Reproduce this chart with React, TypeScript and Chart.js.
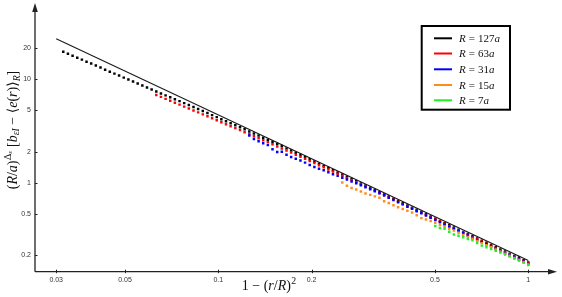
import React, { useEffect, useRef } from "react";
import { Chart, registerables } from "chart.js";
Chart.register(...registerables);

// Shared log-binned abscissa 1-(r/R)^2
const U = [0.03162,0.03273,0.03388,0.03508,0.03631,0.03758,0.03890,0.04027,0.04169,0.04315,
0.04467,0.04624,0.04786,0.04955,0.05129,0.05309,0.05495,0.05689,0.05888,0.06095,
0.06310,0.06531,0.06761,0.06998,0.07244,0.07499,0.07762,0.08035,0.08318,0.08610,
0.08913,0.09226,0.09550,0.09886,0.1023,0.1059,0.1096,0.1135,0.1175,0.1216,
0.1259,0.1303,0.1349,0.1396,0.1445,0.1496,0.1549,0.1603,0.1660,0.1718,
0.1778,0.1841,0.1905,0.1972,0.2042,0.2113,0.2188,0.2265,0.2344,0.2427,
0.2512,0.2600,0.2692,0.2786,0.2884,0.2985,0.3090,0.3199,0.3311,0.3428,
0.3548,0.3673,0.3802,0.3936,0.4074,0.4217,0.4365,0.4519,0.4677,0.4842,
0.5012,0.5188,0.5370,0.5559,0.5754,0.5957,0.6166,0.6383,0.6607,0.6839,
0.7079,0.7328,0.7586,0.7852,0.8128,0.8414,0.8710,0.9016,0.9333,0.9661,
1.0];

const R127 = [18.49,17.70,16.93,16.19,15.50,14.82,14.19,13.57,12.98,12.40,
11.86,11.35,10.86,10.38,9.936,9.506,9.099,8.707,8.326,7.967,
7.621,7.308,6.992,6.705,6.414,6.151,5.885,5.630,5.386,5.153,
4.931,4.717,4.503,4.308,4.113,3.935,3.756,3.596,3.433,3.284,
3.135,2.993,2.857,2.728,2.604,2.486,2.368,2.260,2.148,2.051,
1.949,1.856,1.772,1.684,1.605,1.528,1.452,1.386,1.321,1.255,
1.198,1.141,1.085,1.036,0.9843,0.9374,0.8950,0.8506,0.8101,0.7699,
0.7349,0.6985,0.6654,0.6337,0.6023,0.5736,0.5464,0.5204,0.4946,0.4712,
0.4477,0.4265,0.4062,0.3869,0.3685,0.3510,0.3344,0.3185,0.3034,0.2890,
0.2753,0.2622,0.2497,0.2379,0.2266,0.2158,0.2056,0.1958,0.1886,0.1776,
0.1692];

const R63 = [7.050,6.762,6.467,6.188,5.934,5.691,5.444,5.220,4.993,4.789,
4.581,4.383,4.194,4.021,3.847,3.681,3.522,3.371,3.225,3.079,
2.946,2.818,2.691,2.574,2.457,2.351,2.244,2.143,2.050,1.958,
1.868,1.783,1.702,1.621,1.548,1.478,1.408,1.343,1.281,1.222,
1.167,1.111,1.061,1.011,0.9626,0.9189,0.8752,0.8337,0.7941,0.7563,
0.7204,0.6862,0.6536,0.6225,0.5930,0.5648,0.5367,0.5112,0.4869,0.4638,
0.4417,0.4208,0.3999,0.3809,0.3628,0.3456,0.3292,0.3136,0.2980,0.2838,
0.2704,0.2575,0.2453,0.2337,0.2226,0.2120,0.2019,0.1923,0.1832,0.1745,
0.1662];

const R31 = [2.855,2.642,2.517,2.403,2.309,2.104,1.982,1.996,1.867,1.771,
1.701,1.642,1.564,1.483,1.420,1.367,1.317,1.259,1.209,1.164,
1.118,1.072,1.028,0.9885,0.9456,0.9046,0.8655,0.8281,0.7922,0.7563,
0.7155,0.6815,0.6464,0.6170,0.5864,0.5585,0.5308,0.5067,0.4816,0.4577,
0.4359,0.4152,0.3946,0.3758,0.3580,0.3402,0.3241,0.3087,0.2934,0.2795,
0.2662,0.2536,0.2415,0.2301,0.2192,0.2087,0.1988,0.1894,0.1804,0.1718,
0.1636];

const R15 = [1.003,0.9342,0.8899,0.8574,0.8201,0.7880,0.7624,0.7377,0.7135,0.6632,
0.6375,0.6043,0.5795,0.5570,0.5365,0.5143,0.4833,0.4543,0.4416,0.4253,
0.4096,0.3902,0.3758,0.3579,0.3447,0.3284,0.3128,0.2992,0.2870,0.2733,
0.2604,0.2491,0.2373,0.2265,0.2157,0.2055,0.1966,0.1873,0.1784,0.1699,
0.1618];

const R7 = [0.3814,0.3650,0.3594,0.3348,0.3154,0.3072,0.2965,0.2850,0.2776,0.2614,
0.2463,0.2372,0.2285,0.2200,0.2110,0.2018,0.1931,0.1852,0.1764,0.1687,
0.1600];

const FIT_X = [0.03, 1];
const FIT_Y = [24.7, 0.177];

const X_TICKS = [0.03, 0.05, 0.1, 0.2, 0.5, 1];
const Y_TICKS = [0.2, 0.5, 1, 2, 5, 10, 20];

const SERIES = [R127, R63, R31, R15, R7];
const SIZES = ["127", "63", "31", "15", "7"];
const COLORS = ["#000000", "#ff0000", "#0000ff", "#ff8c1a", "#22ee22"];

const SERIF = "'Liberation Serif','DejaVu Serif',serif";
const SANS = "'Liberation Sans','DejaVu Sans',Arial,sans-serif";

type Seg = { t: string; it?: boolean; sc?: number; dy?: number; pre?: number; post?: number };

function drawRich(ctx: CanvasRenderingContext2D, segs: Seg[], x: number, y: number, size: number, align: "center" | "left") {
  const fontFor = (s: Seg) => `${s.it ? "italic " : ""}${(size * (s.sc || 1)).toFixed(2)}px ${SERIF}`;
  let total = 0;
  const widths = segs.map((s) => {
    ctx.font = fontFor(s);
    const w = (s.pre || 0) + ctx.measureText(s.t).width + (s.post || 0);
    total += w;
    return w;
  });
  let cx = align === "center" ? x - total / 2 : x;
  ctx.textAlign = "left";
  ctx.textBaseline = "alphabetic";
  segs.forEach((s, i) => {
    ctx.font = fontFor(s);
    ctx.fillText(s.t, cx + (s.pre || 0), y + (s.dy || 0) * size);
    cx += widths[i];
  });
}

const decorPlugin = {
  id: "decor",
  afterDraw(chart: any) {
    const ctx: CanvasRenderingContext2D = chart.ctx;
    const { left, bottom } = chart.chartArea;
    const xs = chart.scales.x;
    const ys = chart.scales.y;
    ctx.save();
    ctx.strokeStyle = "#222";
    ctx.fillStyle = "#222";
    ctx.lineWidth = 1.3;
    ctx.beginPath();
    ctx.moveTo(left, bottom);
    ctx.lineTo(left, 8);
    ctx.moveTo(left, bottom);
    ctx.lineTo(552, bottom);
    ctx.stroke();
    ctx.beginPath();
    ctx.moveTo(left, 3);
    ctx.lineTo(left - 2.8, 12);
    ctx.lineTo(left + 2.8, 12);
    ctx.closePath();
    ctx.fill();
    ctx.beginPath();
    ctx.moveTo(557, bottom);
    ctx.lineTo(548, bottom - 2.8);
    ctx.lineTo(548, bottom + 2.8);
    ctx.closePath();
    ctx.fill();
    ctx.lineWidth = 1;
    ctx.beginPath();
    X_TICKS.forEach((v) => {
      const px = Math.round(xs.getPixelForValue(v)) + 0.5;
      ctx.moveTo(px, bottom - 2);
      ctx.lineTo(px, bottom + 1.5);
    });
    Y_TICKS.forEach((v) => {
      const py = Math.round(ys.getPixelForValue(v)) + 0.5;
      ctx.moveTo(left, py);
      ctx.lineTo(left + 2.5, py);
    });
    ctx.stroke();

    ctx.fillStyle = "#111";
    drawRich(ctx, [
      { t: "1" },
      { t: "\u2212", pre: 3.5, post: 3.5 },
      { t: "(" },
      { t: "r", it: true },
      { t: "/" },
      { t: "R", it: true },
      { t: ")" },
      { t: "2", sc: 0.7, dy: -0.42, pre: 0.5 },
    ], 269, 290, 14, "center");

    ctx.save();
    ctx.translate(16.5, 130);
    ctx.rotate(-Math.PI / 2);
    drawRich(ctx, [
      { t: "(" },
      { t: "R", it: true },
      { t: "/" },
      { t: "a", it: true },
      { t: ")" },
      { t: "\u0394", sc: 0.7, dy: -0.42, pre: 0.5 },
      { t: "\u03b5", it: true, sc: 0.5, dy: -0.3 },
      { t: "[", pre: 4 },
      { t: "b", it: true },
      { t: "\u03b5", it: true, sc: 0.7, dy: 0.2 },
      { t: "I", it: true, sc: 0.7, dy: 0.2 },
      { t: "\u2212", pre: 3.5, post: 3.5 },
      { t: "\u27e8" },
      { t: "e", it: true },
      { t: "(" },
      { t: "r", it: true },
      { t: ")" },
      { t: "\u27e9" },
      { t: "R", it: true, sc: 0.7, dy: 0.22 },
      { t: "]" },
    ], 0, 0, 14, "center");
    ctx.restore();

    ctx.lineWidth = 2;
    ctx.strokeStyle = "#000";
    ctx.strokeRect(421.7, 26, 88.3, 83.7);
    const rows = [38.3, 53.5, 69.3, 85, 100.3];
    SIZES.forEach((s, k) => {
      ctx.strokeStyle = COLORS[k];
      ctx.lineWidth = 2;
      ctx.beginPath();
      ctx.moveTo(434, rows[k]);
      ctx.lineTo(452, rows[k]);
      ctx.stroke();
      ctx.fillStyle = "#111";
      drawRich(ctx, [
        { t: "R", it: true },
        { t: "=", pre: 3, post: 3 },
        { t: s },
        { t: "a", it: true },
      ], 459, rows[k] + 3.8, 11, "left");
    });
    ctx.restore();
  },
};

export default function App() {
  const ref = useRef<HTMLCanvasElement | null>(null);
  useEffect(() => {
    const canvas = ref.current;
    if (!canvas) return;
    const datasets: any[] = [
      {
        type: "line",
        label: "fit",
        data: FIT_X.map((x, i) => ({ x, y: FIT_Y[i] })),
        borderColor: "#1a1a1a",
        borderWidth: 1.1,
        pointRadius: 0,
        showLine: true,
        order: 0,
      },
    ];
    SERIES.forEach((ys, k) => {
      const off = U.length - ys.length;
      datasets.push({
        type: "scatter",
        label: "R = " + SIZES[k] + "a",
        data: ys.map((y, j) => ({ x: U[off + j], y })),
        backgroundColor: COLORS[k],
        borderWidth: 0,
        pointStyle: "rect",
        pointRadius: 1.75,
        showLine: false,
        order: 5 - k,
      });
    });
    const chart = new Chart(canvas, {
      type: "scatter",
      data: { datasets },
      options: {
        animation: false,
        responsive: false,
        devicePixelRatio: 1,
        events: [],
        layout: { padding: { top: 12, right: 12, left: 0, bottom: 0 } },
        plugins: { legend: { display: false }, tooltip: { enabled: false } },
        scales: {
          x: {
            type: "logarithmic",
            min: 0.02563,
            max: 1.175,
            grid: { display: false, drawTicks: false },
            border: { display: false },
            afterBuildTicks: (s: any) => { s.ticks = X_TICKS.map((v) => ({ value: v })); },
            afterFit: (s: any) => { s.height = 25.3; },
            ticks: {
              autoSkip: false,
              maxRotation: 0,
              padding: 4,
              color: "#333",
              font: { family: SANS, size: 7 },
              callback: (v: any) => String(v),
            },
          },
          y: {
            type: "logarithmic",
            min: 0.1378,
            max: 44.77,
            grid: { display: false, drawTicks: false },
            border: { display: false },
            afterBuildTicks: (s: any) => { s.ticks = Y_TICKS.map((v) => ({ value: v })); },
            afterFit: (s: any) => { s.width = 35; },
            ticks: {
              autoSkip: false,
              padding: 4,
              color: "#333",
              font: { family: SANS, size: 7 },
              callback: (v: any) => String(v),
            },
          },
        },
      } as any,
      plugins: [decorPlugin],
    });
    return () => chart.destroy();
  }, []);
  return (
    <div style={{ position: "fixed", left: 0, top: 0, width: 562, height: 297, background: "#fff" }}>
      <canvas ref={ref} width={562} height={297} />
    </div>
  );
}
